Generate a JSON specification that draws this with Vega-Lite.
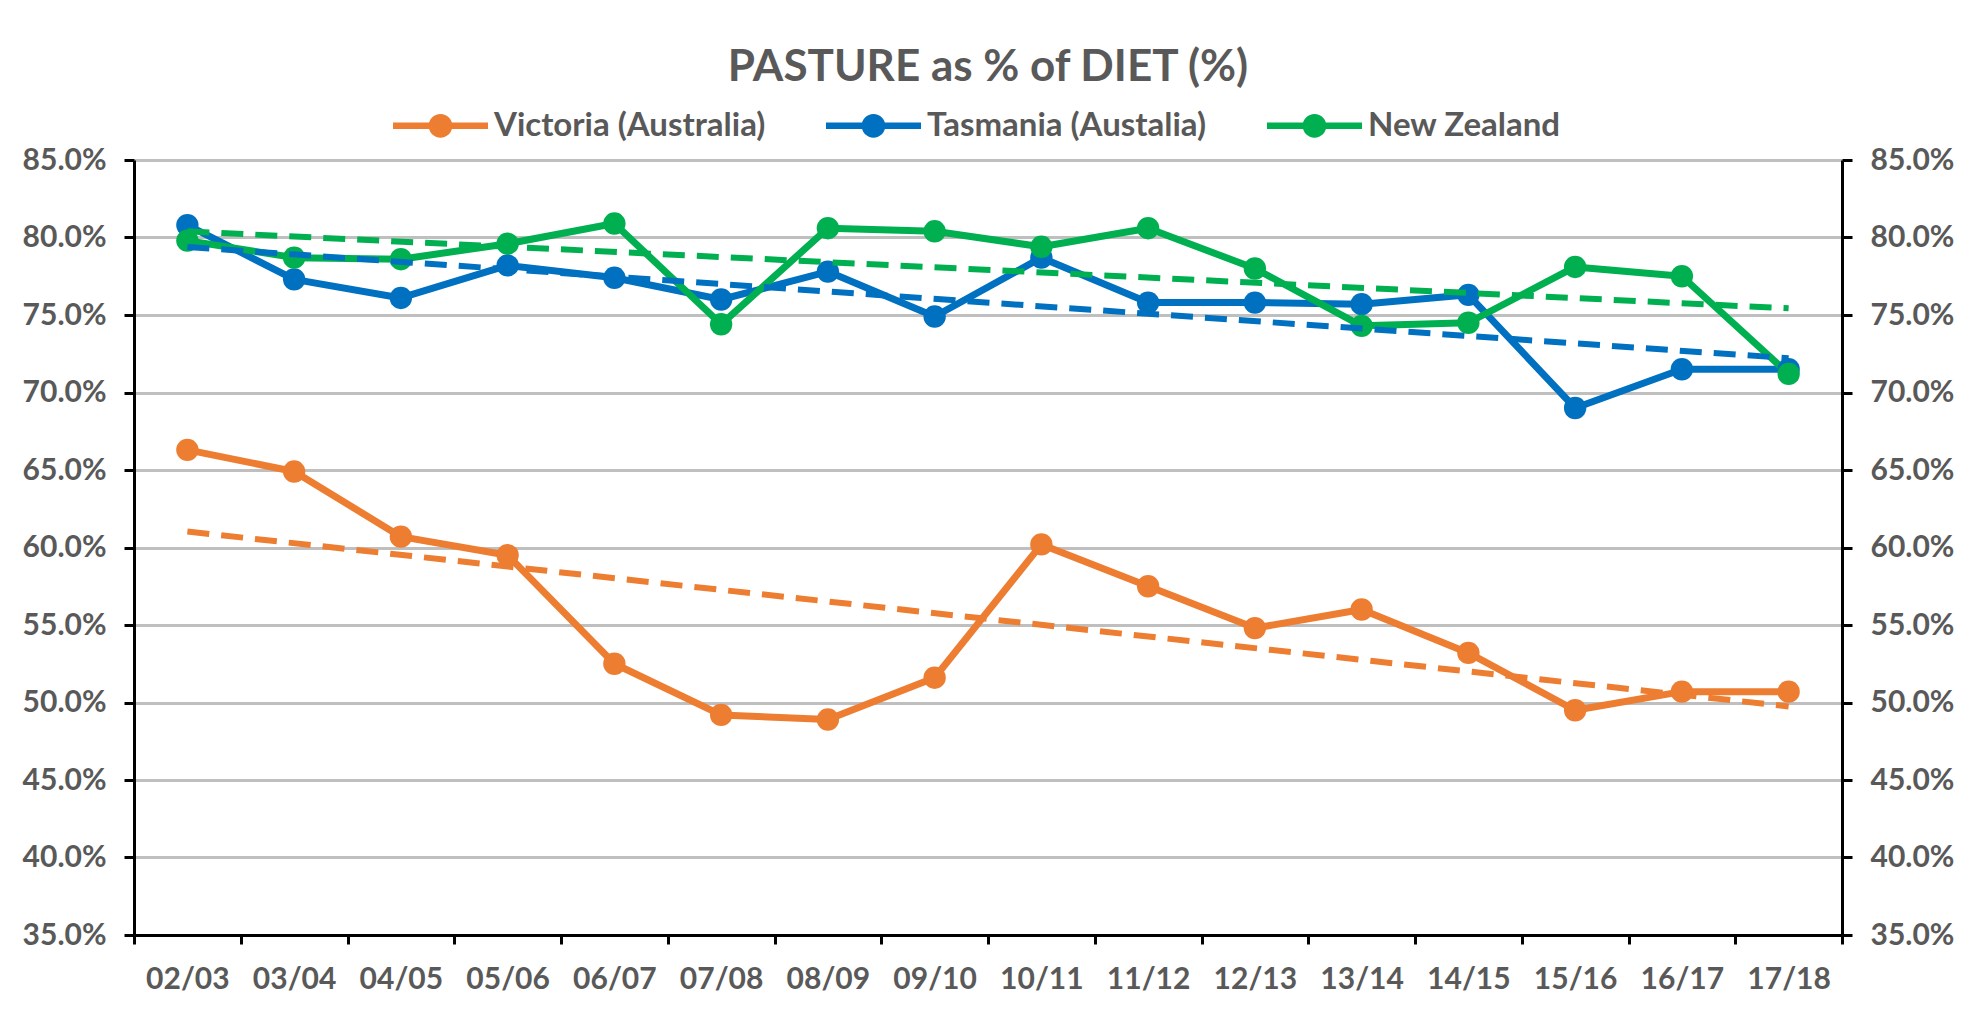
{
  "$schema": "https://vega.github.io/schema/vega-lite/v6.json",
  "width": 1708,
  "height": 775,
  "autosize": {"type": "none"},
  "padding": {"left": 134, "top": 160, "right": 120, "bottom": 85},
  "background": "white",
  "title": {
    "text": "PASTURE as % of DIET (%)",
    "font": "Lato",
    "fontSize": 44,
    "fontWeight": "bold",
    "color": "#595959",
    "anchor": "middle",
    "frame": "group",
    "offset": -12
  },
  "datasets": {
    "seasons": [
      {"year": 2002, "season": "02/03"},
      {"year": 2003, "season": "03/04"},
      {"year": 2004, "season": "04/05"},
      {"year": 2005, "season": "05/06"},
      {"year": 2006, "season": "06/07"},
      {"year": 2007, "season": "07/08"},
      {"year": 2008, "season": "08/09"},
      {"year": 2009, "season": "09/10"},
      {"year": 2010, "season": "10/11"},
      {"year": 2011, "season": "11/12"},
      {"year": 2012, "season": "12/13"},
      {"year": 2013, "season": "13/14"},
      {"year": 2014, "season": "14/15"},
      {"year": 2015, "season": "15/16"},
      {"year": 2016, "season": "16/17"},
      {"year": 2017, "season": "17/18"}
    ],
    "diet": [
      {"season": "02/03", "year": 2002, "series": "Victoria (Australia)", "value": 0.663},
      {"season": "03/04", "year": 2003, "series": "Victoria (Australia)", "value": 0.649},
      {"season": "04/05", "year": 2004, "series": "Victoria (Australia)", "value": 0.607},
      {"season": "05/06", "year": 2005, "series": "Victoria (Australia)", "value": 0.595},
      {"season": "06/07", "year": 2006, "series": "Victoria (Australia)", "value": 0.525},
      {"season": "07/08", "year": 2007, "series": "Victoria (Australia)", "value": 0.492},
      {"season": "08/09", "year": 2008, "series": "Victoria (Australia)", "value": 0.489},
      {"season": "09/10", "year": 2009, "series": "Victoria (Australia)", "value": 0.516},
      {"season": "10/11", "year": 2010, "series": "Victoria (Australia)", "value": 0.602},
      {"season": "11/12", "year": 2011, "series": "Victoria (Australia)", "value": 0.575},
      {"season": "12/13", "year": 2012, "series": "Victoria (Australia)", "value": 0.548},
      {"season": "13/14", "year": 2013, "series": "Victoria (Australia)", "value": 0.560},
      {"season": "14/15", "year": 2014, "series": "Victoria (Australia)", "value": 0.532},
      {"season": "15/16", "year": 2015, "series": "Victoria (Australia)", "value": 0.495},
      {"season": "16/17", "year": 2016, "series": "Victoria (Australia)", "value": 0.507},
      {"season": "17/18", "year": 2017, "series": "Victoria (Australia)", "value": 0.507},
      {"season": "02/03", "year": 2002, "series": "Tasmania (Austalia)", "value": 0.808},
      {"season": "03/04", "year": 2003, "series": "Tasmania (Austalia)", "value": 0.773},
      {"season": "04/05", "year": 2004, "series": "Tasmania (Austalia)", "value": 0.761},
      {"season": "05/06", "year": 2005, "series": "Tasmania (Austalia)", "value": 0.782},
      {"season": "06/07", "year": 2006, "series": "Tasmania (Austalia)", "value": 0.774},
      {"season": "07/08", "year": 2007, "series": "Tasmania (Austalia)", "value": 0.760},
      {"season": "08/09", "year": 2008, "series": "Tasmania (Austalia)", "value": 0.778},
      {"season": "09/10", "year": 2009, "series": "Tasmania (Austalia)", "value": 0.749},
      {"season": "10/11", "year": 2010, "series": "Tasmania (Austalia)", "value": 0.787},
      {"season": "11/12", "year": 2011, "series": "Tasmania (Austalia)", "value": 0.758},
      {"season": "12/13", "year": 2012, "series": "Tasmania (Austalia)", "value": 0.758},
      {"season": "13/14", "year": 2013, "series": "Tasmania (Austalia)", "value": 0.757},
      {"season": "14/15", "year": 2014, "series": "Tasmania (Austalia)", "value": 0.763},
      {"season": "15/16", "year": 2015, "series": "Tasmania (Austalia)", "value": 0.690},
      {"season": "16/17", "year": 2016, "series": "Tasmania (Austalia)", "value": 0.715},
      {"season": "17/18", "year": 2017, "series": "Tasmania (Austalia)", "value": 0.715},
      {"season": "02/03", "year": 2002, "series": "New Zealand", "value": 0.798},
      {"season": "03/04", "year": 2003, "series": "New Zealand", "value": 0.787},
      {"season": "04/05", "year": 2004, "series": "New Zealand", "value": 0.786},
      {"season": "05/06", "year": 2005, "series": "New Zealand", "value": 0.796},
      {"season": "06/07", "year": 2006, "series": "New Zealand", "value": 0.809},
      {"season": "07/08", "year": 2007, "series": "New Zealand", "value": 0.744},
      {"season": "08/09", "year": 2008, "series": "New Zealand", "value": 0.806},
      {"season": "09/10", "year": 2009, "series": "New Zealand", "value": 0.804},
      {"season": "10/11", "year": 2010, "series": "New Zealand", "value": 0.794},
      {"season": "11/12", "year": 2011, "series": "New Zealand", "value": 0.806},
      {"season": "12/13", "year": 2012, "series": "New Zealand", "value": 0.780},
      {"season": "13/14", "year": 2013, "series": "New Zealand", "value": 0.743},
      {"season": "14/15", "year": 2014, "series": "New Zealand", "value": 0.745},
      {"season": "15/16", "year": 2015, "series": "New Zealand", "value": 0.781},
      {"season": "16/17", "year": 2016, "series": "New Zealand", "value": 0.775},
      {"season": "17/18", "year": 2017, "series": "New Zealand", "value": 0.712}
    ]
  },
  "data": {"name": "diet"},
  "config": {
    "font": "Lato",
    "view": {"stroke": null},
    "axis": {
      "labelFont": "Lato",
      "labelFontSize": 30,
      "labelFontWeight": "bold",
      "labelColor": "#595959",
      "domainColor": "black",
      "domainWidth": 3,
      "tickColor": "black",
      "tickWidth": 3,
      "title": null
    },
    "legend": {
      "title": null,
      "orient": "none",
      "direction": "horizontal",
      "legendX": 259,
      "legendY": -82,
      "labelFont": "Lato",
      "labelFontSize": 33,
      "labelFontWeight": "bold",
      "labelColor": "#595959",
      "labelLimit": 600,
      "symbolType": "M-1,-0.07 L1,-0.07 L1,0.07 L-1,0.07 Z M-0.25,0 A0.25,0.25 0 1,1 0.25,0 A0.25,0.25 0 1,1 -0.25,0 Z",
      "symbolSize": 9025,
      "symbolStrokeWidth": 0,
      "symbolOpacity": 1,
      "columnPadding": 60,
      "labelOffset": 6
    }
  },
  "resolve": {"axis": {"y": "independent"}},
  "layer": [
    {
      "mark": {"type": "line", "strokeWidth": 7, "strokeCap": "round", "strokeJoin": "round"},
      "encoding": {
        "x": {
          "field": "season", "type": "ordinal",
          "scale": {"type": "band", "paddingInner": 0, "paddingOuter": 0},
          "axis": {"tickBand": "extent", "labelAngle": 0, "tickSize": 9, "labelPadding": 20, "grid": false}
        },
        "y": {
          "field": "value", "type": "quantitative",
          "scale": {"domain": [0.35, 0.85], "nice": false, "zero": false},
          "axis": {
            "orient": "left",
            "values": [0.35, 0.4, 0.45, 0.5, 0.55, 0.6, 0.65, 0.7, 0.75, 0.8, 0.85],
            "format": ".1%",
            "grid": true, "gridColor": "#BFBFBF", "gridWidth": 3,
            "tickSize": 10, "labelPadding": 18
          }
        },
        "color": {
          "field": "series", "type": "nominal",
          "scale": {"domain": ["Victoria (Australia)", "Tasmania (Austalia)", "New Zealand"], "range": ["#ED7D31", "#0070C0", "#00B050"]}
        }
      }
    },
    {
      "mark": {"type": "point", "filled": true, "opacity": 1, "size": 500},
      "encoding": {
        "x": {"field": "season", "type": "ordinal"},
        "y": {
          "field": "value", "type": "quantitative",
          "axis": {
            "orient": "right",
            "values": [0.35, 0.4, 0.45, 0.5, 0.55, 0.6, 0.65, 0.7, 0.75, 0.8, 0.85],
            "format": ".1%",
            "grid": false,
            "tickSize": 10, "labelPadding": 18
          }
        },
        "color": {"field": "series", "type": "nominal"}
      }
    },
    {
      "transform": [
        {"regression": "value", "on": "year", "groupby": ["series"]},
        {"lookup": "year", "from": {"data": {"name": "seasons"}, "key": "year", "fields": ["season"]}}
      ],
      "mark": {"type": "line", "strokeWidth": 6, "strokeDash": [22, 12]},
      "encoding": {
        "x": {"field": "season", "type": "ordinal"},
        "y": {"field": "value", "type": "quantitative", "axis": null},
        "color": {"field": "series", "type": "nominal"}
      }
    }
  ]
}
